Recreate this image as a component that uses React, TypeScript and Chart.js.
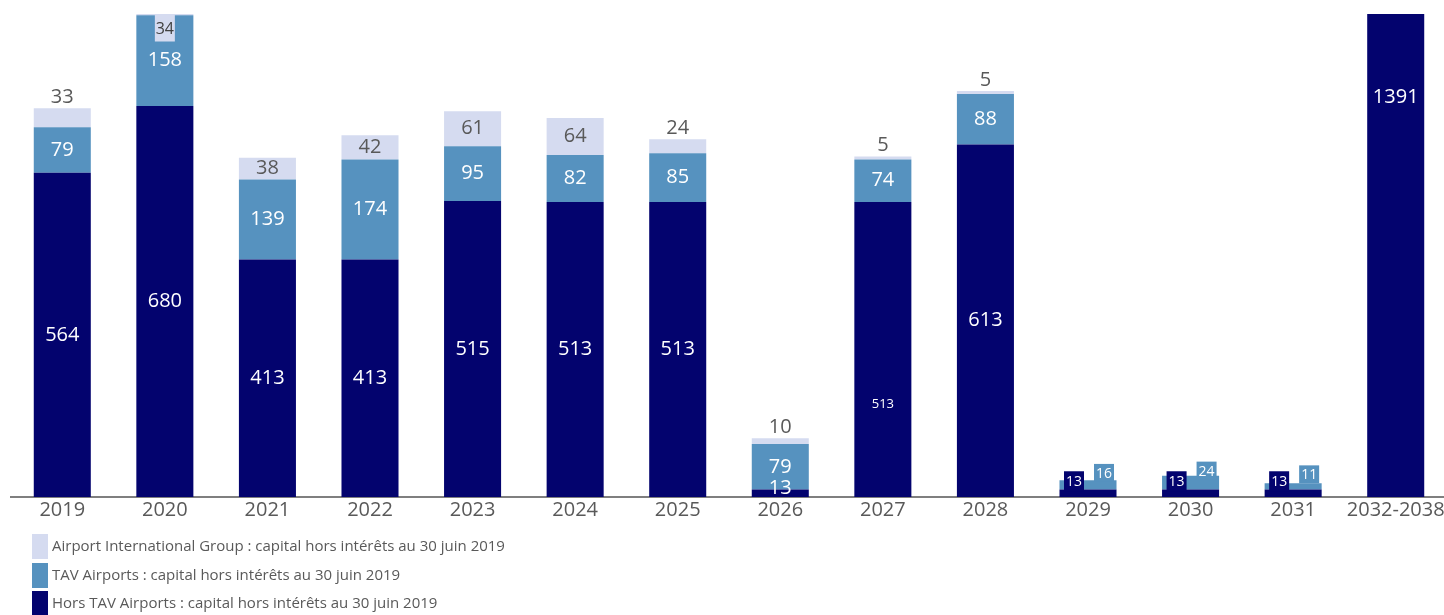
import React, { useEffect, useRef } from "react";
import { Chart, registerables } from "chart.js";

Chart.register(...registerables);

const categories = ["2019", "2020", "2021", "2022", "2023", "2024", "2025", "2026", "2027", "2028", "2029", "2030", "2031", "2032-2038"];
const horsTav = [564, 680, 413, 413, 515, 513, 513, 13, 513, 613, 13, 13, 13, 1391];
const tav = [79, 158, 139, 174, 95, 82, 85, 79, 74, 88, 16, 24, 11, 0];
const aig = [33, 34, 38, 42, 61, 64, 24, 10, 5, 5, 0, 0, 0, 0];
const seriesNames = [
  "Hors TAV Airports : capital hors intérêts au 30 juin 2019",
  "TAV Airports : capital hors intérêts au 30 juin 2019",
  "Airport International Group : capital hors intérêts au 30 juin 2019",
];
const compactLabelCategories = ["2027"];
const yMax = 840;

const COLORS = ["#03036E", "#5692BF", "#D5DBF0"];
const FONT = "'Open Sans', sans-serif";
const GRAY = "#595959";

function boxLabel(ctx: CanvasRenderingContext2D, text: string, cx: number, cy: number, w: number, h: number, bg: string, fg: string, size: number) {
  ctx.fillStyle = bg;
  ctx.fillRect(cx - w / 2, cy - h / 2, w, h);
  ctx.fillStyle = fg;
  ctx.font = `${size}px ${FONT}`;
  ctx.fillText(text, cx, cy + 1);
}

const labelPlugin = {
  id: "segLabels",
  afterDatasetsDraw(chart: any) {
    const ctx: CanvasRenderingContext2D = chart.ctx;
    const area = chart.chartArea;
    const metas = [0, 1, 2].map((i) => chart.getDatasetMeta(i));
    ctx.save();
    ctx.textAlign = "center";
    ctx.textBaseline = "middle";
    categories.forEach((cat, j) => {
      const d = metas[0].data[j];
      const m = metas[1].data[j];
      const l = metas[2].data[j];
      const x = d.x;
      const vd = horsTav[j];
      const vm = tav[j];
      const vl = aig[j];
      if (vd + vm < 60 && vm > 0) {
        boxLabel(ctx, String(vd), x - 14, (d.y + d.base) / 2 - 12, 20, 20, COLORS[0], "#FFFFFF", 14);
        boxLabel(ctx, String(vm), x + 16, (m.y + m.base) / 2 - 12, 20, 18, COLORS[1], "#FFFFFF", 14);
        return;
      }
      if (vd > 0) {
        ctx.fillStyle = "#FFFFFF";
        let cy: number;
        let size = 20;
        if (d.y < area.top) cy = area.top + 83;
        else if (compactLabelCategories.includes(cat)) {
          size = 13;
          cy = d.base - (d.base - d.y) * 0.315;
        } else cy = Math.min((d.y + d.base) / 2, d.base - 9);
        ctx.font = `${size}px ${FONT}`;
        ctx.fillText(String(vd), x, cy);
      }
      if (vm > 0) {
        ctx.fillStyle = "#FFFFFF";
        ctx.font = `20px ${FONT}`;
        ctx.fillText(String(vm), x, (m.y + m.base) / 2);
      }
      if (vl > 0) {
        if (l.base < area.top + 2) {
          boxLabel(ctx, String(vl), x, area.top + 14, 20, 27, COLORS[2], "#404040", 16);
        } else {
          ctx.fillStyle = GRAY;
          ctx.font = `20px ${FONT}`;
          const h = l.base - l.y;
          const cy = h >= 20 ? (l.y + l.base) / 2 : l.y - 11;
          ctx.fillText(String(vl), x, cy);
        }
      }
    });
    ctx.restore();
  },
  afterDraw(chart: any) {
    const ctx: CanvasRenderingContext2D = chart.ctx;
    ctx.save();
    const rows = [2, 1, 0];
    const tops = [534, 563, 591];
    rows.forEach((ds, r) => {
      ctx.fillStyle = COLORS[ds];
      ctx.fillRect(32, tops[r], 16, 25);
      ctx.fillStyle = GRAY;
      ctx.font = `15px ${FONT}`;
      ctx.textAlign = "left";
      ctx.textBaseline = "middle";
      ctx.fillText(seriesNames[ds], 52, tops[r] + 13);
    });
    ctx.restore();
  },
};

export default function App() {
  const ref = useRef<HTMLCanvasElement | null>(null);
  useEffect(() => {
    if (!ref.current) return;
    const chart = new Chart(ref.current, {
      type: "bar",
      data: {
        labels: categories,
        datasets: [
          { label: seriesNames[0], data: horsTav, backgroundColor: COLORS[0] },
          { label: seriesNames[1], data: tav, backgroundColor: COLORS[1] },
          { label: seriesNames[2], data: aig, backgroundColor: COLORS[2] },
        ],
      },
      options: {
        responsive: false,
        animation: false,
        devicePixelRatio: 1,
        datasets: { bar: { categoryPercentage: 1, barPercentage: 0.556, borderWidth: 0 } },
        layout: { padding: { left: 11, top: 14, right: 0, bottom: 0 } },
        plugins: { legend: { display: false }, tooltip: { enabled: false } },
        scales: {
          x: {
            stacked: true,
            grid: { display: false, drawTicks: false },
            border: { display: true, color: "#7F7F7F", width: 2 },
            ticks: { color: GRAY, font: { family: FONT, size: 20 }, padding: 1, maxRotation: 0, autoSkip: false },
            afterFit: (s: any) => {
              s.height = 118;
              s.paddingLeft = 0;
              s.paddingRight = 0;
            },
          },
          y: { stacked: true, display: false, min: 0, max: yMax },
        },
      },
      plugins: [labelPlugin],
    });
    return () => chart.destroy();
  }, []);
  return (
    <div style={{ position: "fixed", left: 0, top: 0, width: 1444, height: 615, background: "#fff", overflow: "hidden" }}>
      <canvas ref={ref} width={1447} height={615} style={{ display: "block" }} />
    </div>
  );
}
